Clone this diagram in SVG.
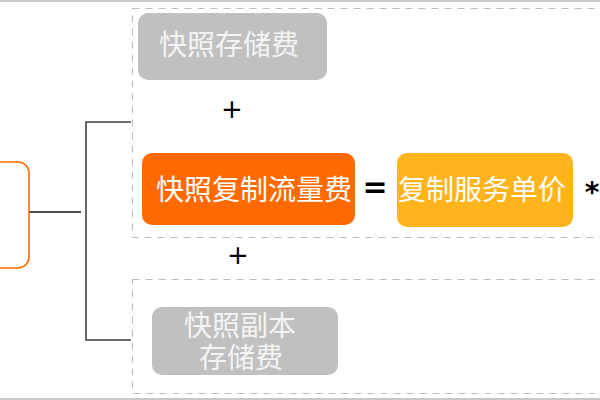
<svg xmlns="http://www.w3.org/2000/svg" width="600" height="400" viewBox="0 0 600 400">
<style>
.dash{fill:none;stroke:#bdbdbd;stroke-width:1.2;stroke-dasharray:7,6}
.t{font-family:"Noto Sans CJK SC","Noto Sans",sans-serif;font-size:28px;text-anchor:middle;dominant-baseline:central}
.gray{fill:#c0c0c0}
.gt{fill:#f4f4f4}
.wt{fill:#ffffff}
.op{font-family:"DejaVu Sans","Liberation Sans",sans-serif;text-anchor:middle;dominant-baseline:central;fill:#000}
.conn{fill:none;stroke:#404040;stroke-width:1.6}
</style>
<rect x="0" y="0" width="600" height="400" fill="#ffffff"/>
<line x1="0" y1="1" x2="600" y2="1" stroke="#c8c8c8" stroke-width="2"/>
<line x1="0" y1="399" x2="600" y2="399" stroke="#c8c8c8" stroke-width="2"/>
<g id="groups">
<rect class="dash" x="132.5" y="8.5" width="480" height="229"/>
<rect class="dash" x="132.5" y="279.5" width="480" height="114"/>
</g>
<g id="connectors">
<line x1="29" y1="212" x2="81" y2="212" stroke="#111" stroke-width="1.3"/>
<polyline class="conn" points="131,122 86,122 86,340 131,340"/>
</g>
<g id="root">
<rect x="-12" y="162" width="41" height="106" rx="11" fill="#ffffff" stroke="#ff6a00" stroke-width="1.6"/>
</g>
<g id="snapshot-storage">
<rect class="gray" x="138" y="13" width="189" height="67" rx="10"/>
<text class="t gt" x="229" y="43">快照存储费</text>
</g>
<g id="plus1"><text class="op" x="232" y="109" font-size="26">+</text></g>
<g id="replication-traffic">
<rect x="142" y="153" width="213" height="72" rx="10" fill="#ff6a00"/>
<text class="t wt" x="254" y="188">快照复制流量费</text>
</g>
<g id="equals"><text class="op" x="375" y="186" font-size="30" font-weight="bold">=</text></g>
<g id="unit-price">
<rect x="397" y="153" width="176" height="74" rx="10" fill="#ffb41e"/>
<text class="t wt" x="482" y="188">复制服务单价</text>
</g>
<g id="times"><text class="op" x="592" y="192" font-size="28" font-weight="bold">*</text></g>
<g id="plus2"><text class="op" x="238" y="255" font-size="26">+</text></g>
<g id="replica-storage">
<rect class="gray" x="152" y="307" width="186" height="68" rx="10"/>
<text class="t gt" x="240" y="324" font-size="26">快照副本</text>
<text class="t gt" x="241" y="356" font-size="26">存储费</text>
</g>
</svg>
